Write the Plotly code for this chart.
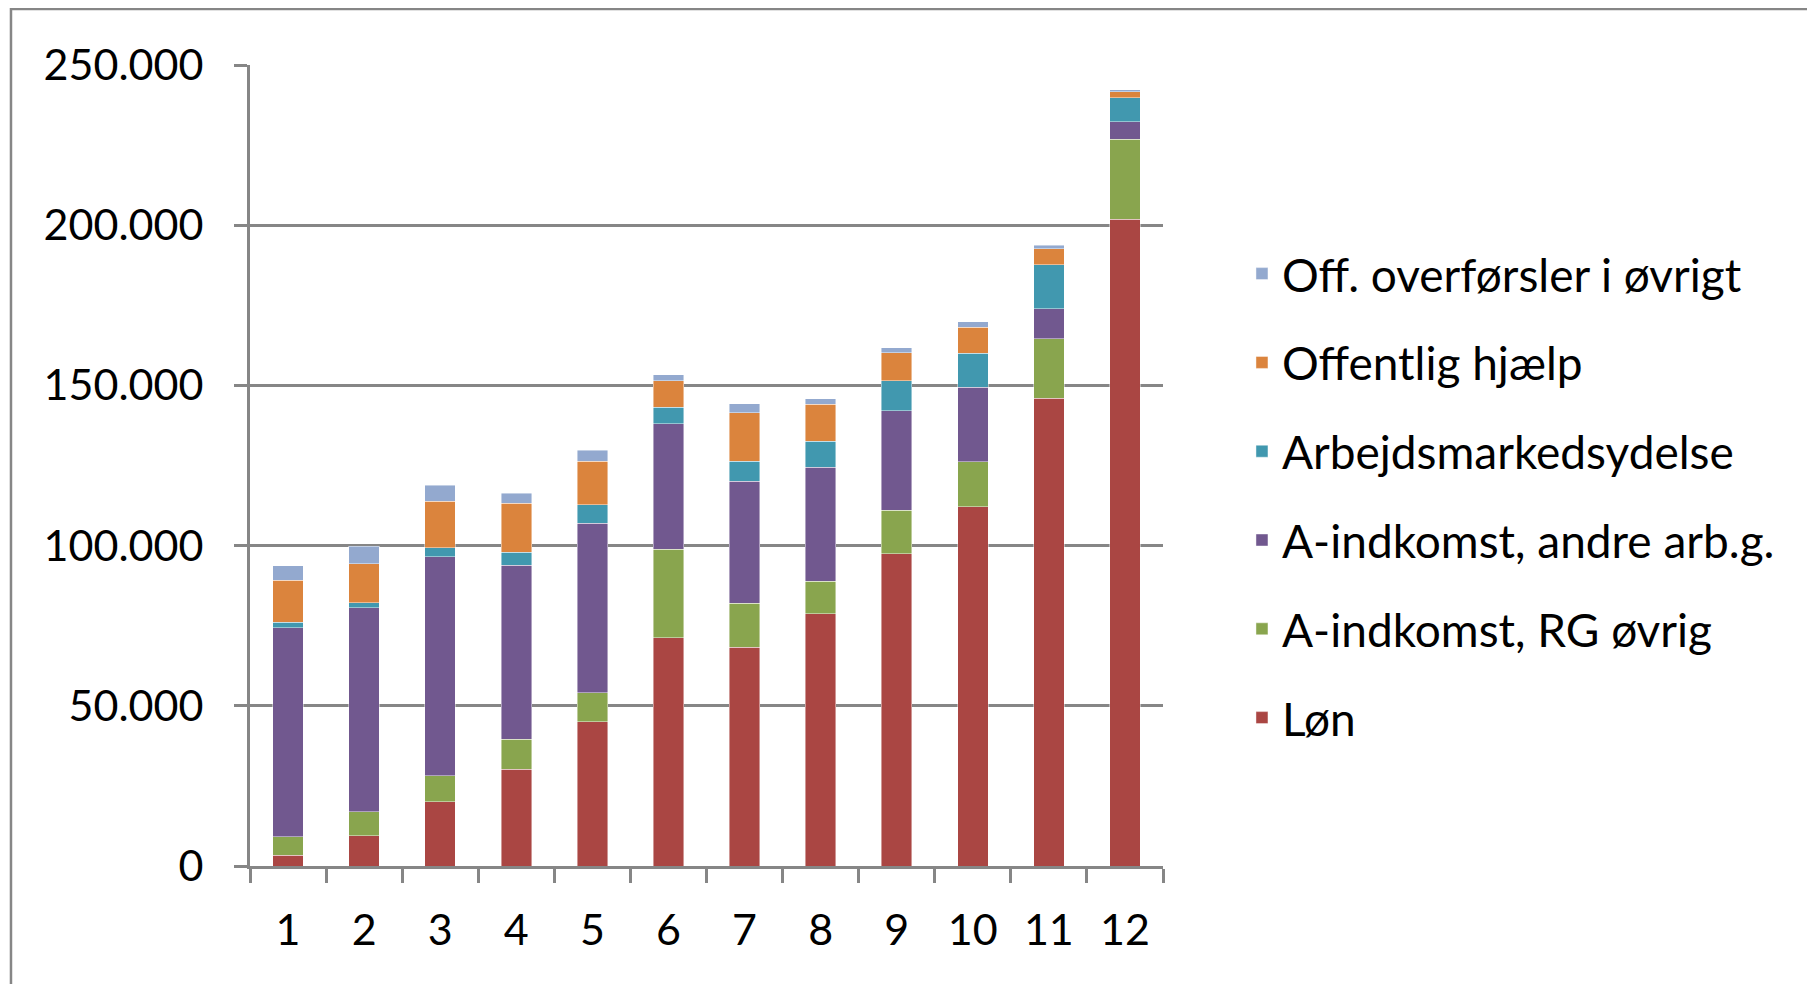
import plotly.graph_objects as go

categories = ["1", "2", "3", "4", "5", "6", "7", "8", "9", "10", "11", "12"]

lon = [3300, 9400, 20100, 30200, 45100, 71300, 68200, 78700, 97500, 112200, 146000, 201800]
rg_ovrig = [5900, 7500, 8000, 9300, 8900, 27500, 13800, 10200, 13600, 14000, 18500, 25100]
andre_arbg = [65100, 63700, 68400, 54400, 53000, 39300, 38100, 35500, 31000, 23200, 9500, 5400]
arbejdsmarked = [1800, 1600, 2800, 4000, 5700, 5100, 6300, 8100, 9300, 10700, 13700, 7500]
offentlig_hjaelp = [13100, 12200, 14500, 15300, 13700, 8300, 15000, 11600, 8800, 8100, 4900, 1800]
off_ovrigt = [4500, 5400, 5000, 3200, 3300, 1900, 2800, 1700, 1500, 1600, 1100, 700]

series_names = [
    "Løn",
    "A-indkomst, RG øvrig",
    "A-indkomst, andre arb.g.",
    "Arbejdsmarkedsydelse",
    "Offentlig hjælp",
    "Off. overførsler i øvrigt",
]
series_values = [lon, rg_ovrig, andre_arbg, arbejdsmarked, offentlig_hjaelp, off_ovrigt]
series_colors = ["#AA4643", "#89A54E", "#71588F", "#4198AF", "#DB843D", "#93A9CF"]

y_ticks = [0, 50000, 100000, 150000, 200000, 250000]

GRAY = "#868686"
FONT = "Lato"

fig = go.Figure()
n = len(series_names)
for i, (name, vals, col) in enumerate(zip(series_names, series_values, series_colors)):
    fig.add_trace(go.Bar(
        x=categories, y=vals, name=name, legendgroup=name, legendrank=n - i,
        marker=dict(color=col, line=dict(width=0.8, color="rgba(255,255,255,0.55)")),
    ))

fig.update_layout(
    width=1815, height=984,
    margin=dict(l=242, r=660, t=57, b=126, pad=0),
    barmode="stack", bargap=0.6,
    separators=",.",
    plot_bgcolor="white", paper_bgcolor="white",
    font=dict(family=FONT, size=43, color="black"),
    legend=dict(
        x=1.0865, xanchor="left", y=0.785, yanchor="top",
        traceorder="grouped", tracegroupgap=26,
        font=dict(family=FONT, size=46, color="black"),
        bgcolor="rgba(0,0,0,0)",
    ),
    xaxis=dict(
        type="category", showline=True, linecolor=GRAY, linewidth=3,
        ticks="outside", tickson="boundaries", ticklen=14, tickwidth=2.5, tickcolor=GRAY,
        showgrid=False, ticklabelstandoff=24,
        tickfont=dict(family=FONT, size=43, color="black"),
    ),
    yaxis=dict(
        range=[0, 250000], tickvals=y_ticks, tickformat=",",
        showline=True, linecolor=GRAY, linewidth=3,
        ticks="outside", ticklen=13, tickwidth=2.5, tickcolor=GRAY,
        showgrid=True, gridcolor=GRAY, gridwidth=2.5, zeroline=False,
        ticklabelstandoff=22,
        tickfont=dict(family=FONT, size=43, color="black"),
    ),
    shapes=[dict(
        type="rect", xref="paper", yref="paper",
        x0=-0.2618, x1=1.75, y0=-0.3, y1=1.0699,
        line=dict(color=GRAY, width=2.5), fillcolor="rgba(0,0,0,0)", layer="below",
    )],
)

fig.write_html("out.html")
